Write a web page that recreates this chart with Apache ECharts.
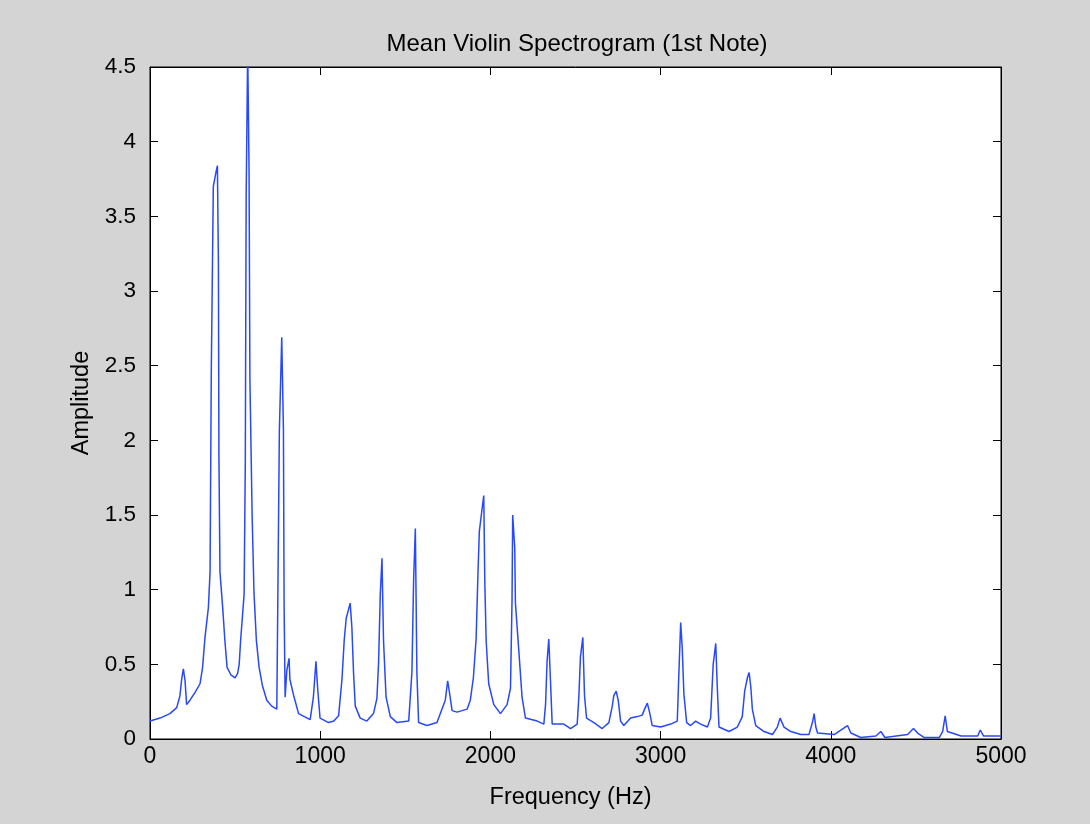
<!DOCTYPE html>
<html>
<head>
<meta charset="utf-8">
<script src="https://cdn.jsdelivr.net/npm/echarts@6/dist/echarts.min.js"></script>
<style>
  html, body { margin: 0; padding: 0; background: #d4d4d4; }
  #chart { width: 1090px; height: 824px; }
</style>
</head>
<body>
<div id="chart"></div>
<script>
// Frequency bins (Hz) and mean spectral amplitude of the first violin note
const frequency = [
  0, 59, 117, 157, 176, 186, 196, 206, 215, 235, 264, 294, 309, 323, 343, 353, 360, 372, 385, 396,
  402, 405, 411, 427, 440, 453, 475, 500, 515, 524, 533, 553, 560, 565, 574, 582, 587, 600, 611, 625,
  641, 660, 686, 715, 745, 750, 760, 774, 784, 788, 794, 804, 817, 822, 842, 873, 941, 960, 975, 985,
  999, 1049, 1080, 1108, 1128, 1141, 1153, 1167, 1176, 1186, 1196, 1206, 1235, 1274, 1313, 1333, 1343, 1353, 1363, 1372,
  1387, 1412, 1451, 1520, 1539, 1549, 1559, 1568, 1578, 1627, 1686, 1735, 1749, 1761, 1775, 1804, 1863, 1882, 1900, 1916,
  1927, 1935, 1951, 1961, 1967, 1975, 1990, 2020, 2059, 2098, 2118, 2127, 2131, 2143, 2147, 2167, 2186, 2206, 2275, 2314,
  2324, 2333, 2343, 2353, 2363, 2431, 2471, 2510, 2520, 2529, 2543, 2553, 2565, 2608, 2657, 2696, 2716, 2725, 2739, 2751,
  2765, 2784, 2824, 2863, 2892, 2906, 2922, 2935, 2951, 3000, 3059, 3098, 3108, 3118, 3127, 3137, 3153, 3176, 3206, 3235,
  3275, 3294, 3309, 3324, 3333, 3343, 3402, 3451, 3480, 3494, 3510, 3520, 3530, 3539, 3559, 3608, 3657, 3686, 3702, 3725,
  3765, 3824, 3872, 3892, 3902, 3912, 3922, 4020, 4098, 4118, 4176, 4265, 4294, 4318, 4451, 4486, 4510, 4549, 4637, 4657,
  4672, 4685, 4765, 4863, 4878, 4898, 5000
];
const amplitude = [
  0.12, 0.14, 0.17, 0.21, 0.29, 0.40, 0.47, 0.39, 0.23, 0.26, 0.31, 0.37, 0.48, 0.68, 0.88, 1.12, 2.45, 3.70, 3.78, 3.84,
  3.18, 1.89, 1.12, 0.88, 0.66, 0.48, 0.43, 0.41, 0.44, 0.50, 0.67, 0.97, 1.86, 3.63, 4.62, 3.80, 2.41, 1.50, 0.98, 0.66,
  0.48, 0.36, 0.26, 0.22, 0.20, 0.81, 2.06, 2.69, 2.07, 0.88, 0.28, 0.46, 0.54, 0.40, 0.30, 0.17, 0.13, 0.28, 0.52, 0.34,
  0.14, 0.11, 0.12, 0.155, 0.40, 0.66, 0.81, 0.87, 0.91, 0.75, 0.44, 0.22, 0.14, 0.12, 0.17, 0.27, 0.51, 0.97, 1.21, 0.66,
  0.28, 0.15, 0.11, 0.12, 0.45, 1.07, 1.41, 0.45, 0.11, 0.09, 0.11, 0.26, 0.39, 0.30, 0.19, 0.18, 0.20, 0.26, 0.41, 0.67,
  1.11, 1.39, 1.54, 1.63, 1.06, 0.66, 0.37, 0.23, 0.17, 0.23, 0.34, 0.92, 1.50, 1.28, 0.91, 0.59, 0.28, 0.14, 0.12, 0.10,
  0.23, 0.52, 0.67, 0.39, 0.10, 0.10, 0.07, 0.10, 0.29, 0.55, 0.68, 0.29, 0.14, 0.11, 0.07, 0.11, 0.22, 0.29, 0.32, 0.26,
  0.12, 0.09, 0.14, 0.15, 0.16, 0.20, 0.24, 0.18, 0.09, 0.08, 0.10, 0.12, 0.46, 0.78, 0.61, 0.30, 0.11, 0.09, 0.12, 0.10,
  0.08, 0.14, 0.50, 0.64, 0.35, 0.08, 0.05, 0.08, 0.15, 0.32, 0.41, 0.445, 0.35, 0.20, 0.09, 0.05, 0.03, 0.08, 0.14, 0.08,
  0.05, 0.03, 0.03, 0.11, 0.17, 0.08, 0.04, 0.03, 0.09, 0.04, 0.01, 0.02, 0.05, 0.01, 0.03, 0.07, 0.04, 0.01, 0.01, 0.05,
  0.155, 0.05, 0.02, 0.02, 0.06, 0.02, 0.02
];
const xTicks = [0, 1000, 2000, 3000, 4000, 5000];
const yTicks = [0, 0.5, 1, 1.5, 2, 2.5, 3, 3.5, 4, 4.5];

const font = 'Liberation Sans, Arial, sans-serif';
const points = frequency.map((f, i) => [f, amplitude[i]]);

const chart = echarts.init(document.getElementById('chart'), null, { renderer: 'canvas' });

// Ticks point into the plot box on all four sides
const tickStyle = { show: true, inside: true, length: 8, lineStyle: { color: '#000', width: 1 } };
const lineStyle = { show: true, onZero: false, lineStyle: { color: '#000', width: 1 } };
const plain = v => String(v);

chart.setOption({
  backgroundColor: '#d4d4d4',
  animation: false,
  title: {
    text: 'Mean Violin Spectrogram (1st Note)',
    left: 572,
    top: 27,
    textAlign: 'center',
    textStyle: { fontFamily: font, fontSize: 24, fontWeight: 'normal', color: '#000' }
  },
  grid: {
    left: 150, right: 89, top: 67, bottom: 85,
    show: true, backgroundColor: '#fff', borderColor: '#000', borderWidth: 1
  },
  xAxis: [
    {
      type: 'value', min: xTicks[0], max: xTicks[xTicks.length - 1], interval: 1000,
      position: 'bottom',
      name: 'Frequency (Hz)', nameLocation: 'middle', nameGap: 47,
      nameTextStyle: { fontFamily: font, fontSize: 23.5, color: '#000', padding: [0, 10, 0, 0] },
      axisLine: lineStyle, axisTick: tickStyle, splitLine: { show: false },
      axisLabel: { fontFamily: font, fontSize: 23, color: '#000', margin: 6, formatter: plain }
    },
    {
      type: 'value', min: xTicks[0], max: xTicks[xTicks.length - 1], interval: 1000,
      position: 'top',
      axisLine: lineStyle, axisTick: tickStyle, splitLine: { show: false },
      axisLabel: { show: false }
    }
  ],
  yAxis: [
    {
      type: 'value', min: yTicks[0], max: yTicks[yTicks.length - 1], interval: 0.5,
      position: 'left',
      name: 'Amplitude', nameLocation: 'middle', nameGap: 55, nameRotate: 90,
      nameTextStyle: { fontFamily: font, fontSize: 23.5, color: '#000' },
      axisLine: lineStyle, axisTick: tickStyle, splitLine: { show: false },
      axisLabel: { fontFamily: font, fontSize: 22.5, color: '#000', margin: 14, formatter: plain }
    },
    {
      type: 'value', min: yTicks[0], max: yTicks[yTicks.length - 1], interval: 0.5,
      position: 'right',
      axisLine: lineStyle, axisTick: tickStyle, splitLine: { show: false },
      axisLabel: { show: false }
    }
  ],
  series: [{
    type: 'line',
    data: points,
    xAxisIndex: 0, yAxisIndex: 0,
    showSymbol: false,
    clip: true,
    lineStyle: { color: '#2848ff', width: 1.5 }
  }]
});
</script>
</body>
</html>
